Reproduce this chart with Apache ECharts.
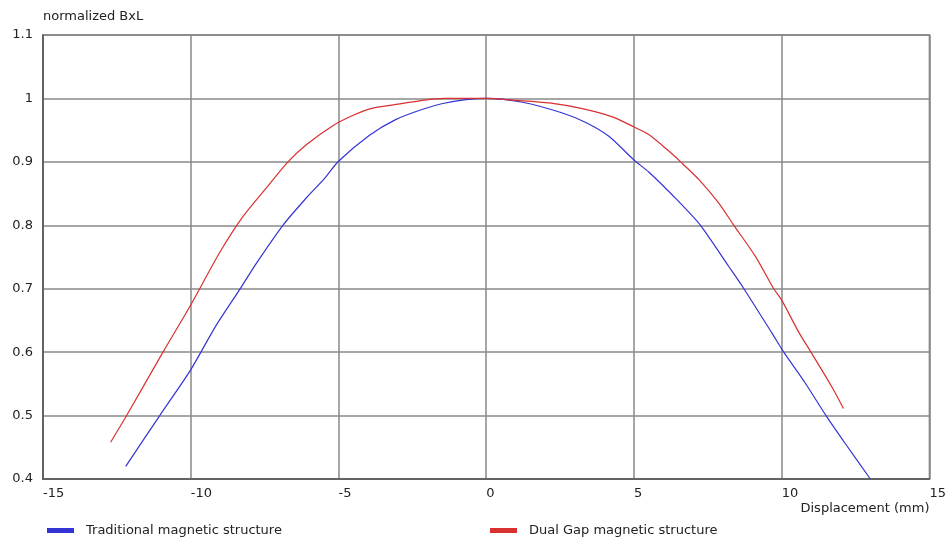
<!DOCTYPE html>
<html>
<head>
<meta charset="utf-8">
<script src="https://cdn.jsdelivr.net/npm/echarts@6/dist/echarts.min.js"></script>
<style>
  html, body { margin: 0; padding: 0; background: #fff; }
  #chart { width: 949px; height: 539px; }
</style>
</head>
<body>
<div id="chart"></div>
<script>
// Normalized BxL versus displacement for the two magnetic structures
const traditionalX = [-12.2, -11.05, -10.03, -9.13, -8.34, -7.78, -6.88, -6.09, -5.47, -5.0, -3.95, -3.05, -2.15, -1.47, -0.69, 0,
  1.23, 2.58, 3.37, 4.16, 5.0, 5.5, 6.46, 7.25, 8.21, 8.72, 9.67, 10.07, 10.8, 11.5, 12.15, 13.0];
const traditionalY = [0.420, 0.500, 0.570, 0.643, 0.699, 0.740, 0.800, 0.843, 0.874, 0.901, 0.942, 0.967, 0.983, 0.992, 0.998, 1.0,
  0.994, 0.977, 0.962, 0.940, 0.903, 0.884, 0.840, 0.800, 0.735, 0.700, 0.630, 0.600, 0.551, 0.500, 0.456, 0.400];

const dualGapX = [-12.71, -12.17, -10.94, -10.03, -9.02, -8.23, -7.44, -6.71, -6.09, -5.19, -4.52, -3.9, -3.05, -2.15, -1.4, 0,
  1.0, 2.13, 3.25, 4.27, 5.0, 5.5, 6.13, 6.58, 7.2, 7.87, 8.38, 9.11, 9.73, 10.0, 10.57, 10.99, 11.7, 12.09];
const dualGapY = [0.458, 0.500, 0.600, 0.672, 0.757, 0.814, 0.859, 0.900, 0.927, 0.957, 0.973, 0.984, 0.9905, 0.997, 1.0, 1.0,
  0.997, 0.993, 0.984, 0.971, 0.955, 0.943, 0.919, 0.900, 0.872, 0.835, 0.800, 0.751, 0.700, 0.682, 0.632, 0.600, 0.545, 0.511];

const seriesNames = ['Traditional magnetic structure', 'Dual Gap magnetic structure'];
const seriesColors = ['#3434d4', '#d93030'];

const font = 'DejaVu Sans, Verdana, sans-serif';
const pairs = (xs, ys) => xs.map((x, i) => [x, ys[i]]);

const chart = echarts.init(document.getElementById('chart'), null, { renderer: 'canvas' });

const legendBase = {
  orient: 'horizontal',
  top: 524,
  padding: 0,
  itemWidth: 27,
  itemHeight: 5,
  icon: 'rect',
  selectedMode: false,
  textStyle: { fontFamily: font, fontSize: 13, color: '#222', padding: [0, 0, 0, 7] }
};

const lineSeries = (name, xs, ys, color) => ({
  name, type: 'line', data: pairs(xs, ys),
  showSymbol: false, smooth: 0.25, color,
  lineStyle: { width: 1.2, color }
});

chart.setOption({
  animation: false,
  backgroundColor: '#fff',
  grid: {
    left: 43, right: 18, top: 35, bottom: 60,
    show: true, borderColor: '#777', borderWidth: 1.5, backgroundColor: 'transparent'
  },
  legend: [
    Object.assign({}, legendBase, { left: 47, data: [seriesNames[0]] }),
    Object.assign({}, legendBase, { left: 490, data: [seriesNames[1]] })
  ],
  xAxis: {
    type: 'value', min: -15, max: 15, interval: 5,
    name: 'Displacement (mm)',
    nameLocation: 'end', nameGap: 0,
    nameTextStyle: { fontFamily: font, fontSize: 13, color: '#222', align: 'right', verticalAlign: 'top', padding: [23, 0, 0, 0] },
    axisLine: { onZero: false, lineStyle: { color: '#555', width: 1.5 } },
    axisTick: { show: false },
    axisLabel: { fontFamily: font, fontSize: 13, color: '#222', align: 'left', margin: 8 },
    splitLine: { show: true, lineStyle: { color: '#888', width: 1.5 } }
  },
  yAxis: {
    type: 'value', min: 0.4, max: 1.1, interval: 0.1,
    name: 'normalized BxL',
    nameLocation: 'end', nameGap: 12,
    nameTextStyle: { fontFamily: font, fontSize: 13, color: '#222', align: 'left' },
    axisLine: { show: true, onZero: false, lineStyle: { color: '#555', width: 1.5 } },
    axisTick: { show: false },
    axisLabel: {
      fontFamily: font, fontSize: 13, color: '#222', margin: 10,
      formatter: v => String(Math.round(v * 10) / 10)
    },
    splitLine: { show: true, lineStyle: { color: '#888', width: 1.5 } }
  },
  series: [
    lineSeries(seriesNames[0], traditionalX, traditionalY, seriesColors[0]),
    lineSeries(seriesNames[1], dualGapX, dualGapY, seriesColors[1])
  ]
});
</script>
</body>
</html>
